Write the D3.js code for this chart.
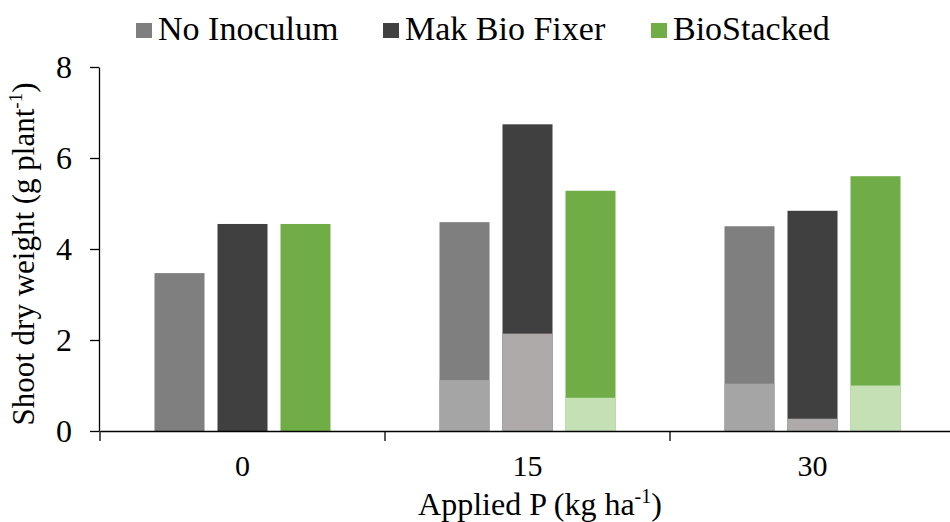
<!DOCTYPE html>
<html lang="en">
<head>
<meta charset="utf-8">
<title>Shoot dry weight</title>
<script src="https://d3js.org/d3.v7.min.js"></script>
<style>
  body { margin: 0; background: #fff; }
  svg text { font-family: "Liberation Serif", "Times New Roman", "Noto Serif", "DejaVu Serif", serif; fill: #000; }
</style>
</head>
<body>
<div id="chart"></div>
<script>
// data
const rates = ["0", "15", "30"];
const treatments = ["No Inoculum", "Mak Bio Fixer", "BioStacked"];
const totalWeight = {
  "No Inoculum":   [3.47, 4.59, 4.50],
  "Mak Bio Fixer": [4.55, 6.74, 4.84],
  "BioStacked":    [4.55, 5.28, 5.60]
};
// lighter lower part of each bar (0 = none)
const lowerWeight = {
  "No Inoculum":   [0, 1.12, 1.04],
  "Mak Bio Fixer": [0, 2.14, 0.27],
  "BioStacked":    [0, 0.73, 1.00]
};
const yTicks = [0, 2, 4, 6, 8];

const colors = { "No Inoculum": "#7f7f7f", "Mak Bio Fixer": "#404040", "BioStacked": "#70ad47" };
const lowerColors = { "No Inoculum": "#a5a5a5", "Mak Bio Fixer": "#aeaaaa", "BioStacked": "#c5e0b4" };

const width = 950, height = 522;
const margin = {top: 67, right: 0, bottom: 91, left: 99};
const serif = "'Liberation Serif', 'Times New Roman', 'Noto Serif', 'DejaVu Serif', serif";

const svg = d3.select("#chart").append("svg")
  .attr("width", width)
  .attr("height", height);

const x0 = d3.scaleBand().domain(rates).range([100, 955]);
const x1 = d3.scaleBand().domain(treatments)
  .range([0, x0.bandwidth()])
  .paddingInner(0.206).paddingOuter(0.865);
const y = d3.scaleLinear().domain([0, 8]).range([height - margin.bottom, margin.top]);

// bars
const groups = svg.append("g").selectAll("g")
  .data(rates)
  .join("g")
    .attr("transform", d => `translate(${x0(d)},0)`);

treatments.forEach(t => {
  groups.append("rect")
    .attr("x", x1(t))
    .attr("width", x1.bandwidth())
    .attr("y", (d, i) => y(totalWeight[t][i]))
    .attr("height", (d, i) => y(0) - y(totalWeight[t][i]))
    .attr("fill", colors[t]);
  groups.filter((d, i) => lowerWeight[t][i] > 0).append("rect")
    .attr("x", x1(t))
    .attr("width", x1.bandwidth())
    .attr("y", d => y(lowerWeight[t][rates.indexOf(d)]))
    .attr("height", d => y(0) - y(lowerWeight[t][rates.indexOf(d)]))
    .attr("fill", lowerColors[t]);
});

// y axis
const yAxis = svg.append("g")
  .attr("transform", `translate(${margin.left},0)`)
  .call(d3.axisLeft(y).tickValues(yTicks).tickSize(9).tickPadding(18).tickSizeOuter(0))
  .attr("font-family", serif);
yAxis.select(".domain").attr("stroke", "#000").attr("stroke-width", 1.3);
yAxis.selectAll(".tick line").attr("stroke", "#000").attr("stroke-width", 1.3);
yAxis.selectAll("text").attr("font-size", 32);

// x axis: labels centred on groups, ticks at group boundaries
const xAxis = svg.append("g")
  .attr("transform", `translate(0,${y(0)})`)
  .call(d3.axisBottom(x0).tickSize(0).tickPadding(24).tickSizeOuter(0))
  .attr("font-family", serif);
xAxis.select(".domain").attr("stroke", "#000").attr("stroke-width", 1.3);
xAxis.selectAll("text").attr("font-size", 30);
xAxis.selectAll(".bound")
  .data(rates)
  .join("line")
    .attr("x1", d => x0(d)).attr("x2", d => x0(d))
    .attr("y1", 0).attr("y2", 10)
    .attr("stroke", "#000").attr("stroke-width", 1.3);

// axis titles
const yTitle = svg.append("text")
  .attr("transform", "translate(34,254) rotate(-90)")
  .attr("text-anchor", "middle")
  .attr("font-size", 31);
yTitle.append("tspan").text("Shoot dry weight (g plant");
yTitle.append("tspan").attr("font-size", 19).attr("dy", -12).text("-1");
yTitle.append("tspan").attr("dy", 12).text(")");

const xTitle = svg.append("text")
  .attr("x", 540).attr("y", 515)
  .attr("text-anchor", "middle")
  .attr("font-size", 32);
xTitle.append("tspan").text("Applied P (kg ha");
xTitle.append("tspan").attr("font-size", 20).attr("dy", -12).text("-1");
xTitle.append("tspan").attr("dy", 12).text(")");

// legend
const legendX = [136, 383, 651];
const legend = svg.append("g").selectAll("g")
  .data(treatments)
  .join("g")
    .attr("transform", (d, i) => `translate(${legendX[i]},0)`);
legend.append("rect")
  .attr("x", 0).attr("y", 23)
  .attr("width", 16).attr("height", 15)
  .attr("fill", d => colors[d]);
legend.append("text")
  .attr("x", 22).attr("y", 40)
  .attr("font-size", 34)
  .text(d => d);
</script>
</body>
</html>
